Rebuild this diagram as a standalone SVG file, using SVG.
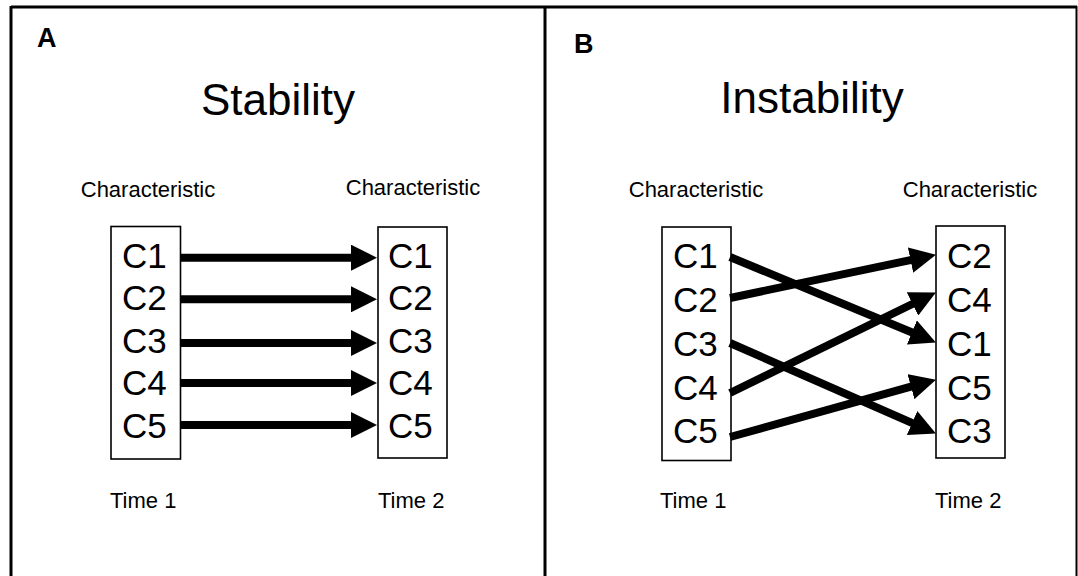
<svg xmlns="http://www.w3.org/2000/svg" width="1078" height="576" viewBox="0 0 1078 576">
<style>
  .frame{fill:none;stroke:#000;stroke-width:3}
  .box{fill:#fff;stroke:#000;stroke-width:1.6}
  .lbl{font-family:"Liberation Sans",Arial,sans-serif;font-size:22px;fill:#000}
  .item{font-family:"Liberation Sans",Arial,sans-serif;font-size:35px;fill:#000}
  .title{font-family:"Liberation Sans",Arial,sans-serif;font-size:44px;fill:#000;text-anchor:middle}
  .panel{font-family:"Liberation Sans",Arial,sans-serif;font-size:27px;font-weight:bold;fill:#000}
  .arrow{stroke:#000;stroke-width:8;fill:none;marker-end:url(#head)}
</style>
<defs>
  <marker id="head" markerUnits="userSpaceOnUse" markerWidth="27" markerHeight="26" refX="1" refY="13" orient="auto">
    <path d="M0,0 L26,13 L0,26 z" fill="#000"/>
  </marker>
</defs>
<rect width="1078" height="576" fill="#fff"/>
<g id="frame">
  <line class="frame" x1="11" y1="7" x2="1077" y2="7"/>
  <line class="frame" x1="11" y1="6" x2="11" y2="576"/>
  <line class="frame" x1="545" y1="6" x2="545" y2="576"/>
  <line x1="1076.5" y1="6" x2="1076.5" y2="576" stroke="#000" stroke-width="2"/>
</g>
<g id="panelA">
  <text class="panel" x="37" y="47">A</text>
  <text class="title" x="278" y="115">Stability</text>
  <text class="lbl" x="148" y="197" text-anchor="middle">Characteristic</text>
  <text class="lbl" x="413" y="195" text-anchor="middle">Characteristic</text>
  <text class="lbl" x="110" y="508">Time 1</text>
  <text class="lbl" x="378" y="508">Time 2</text>
</g>
<g id="A-time1">
  <rect class="box" x="111" y="226.5" width="69.5" height="232.5"/>
  <text class="item" x="122" y="268">C1</text>
  <text class="item" x="122" y="310">C2</text>
  <text class="item" x="122" y="353">C3</text>
  <text class="item" x="122" y="395">C4</text>
  <text class="item" x="122" y="438">C5</text>
</g>
<g id="A-time2">
  <rect class="box" x="378" y="227" width="69" height="231"/>
  <text class="item" x="388" y="268">C1</text>
  <text class="item" x="388" y="310">C2</text>
  <text class="item" x="388" y="353">C3</text>
  <text class="item" x="388" y="395">C4</text>
  <text class="item" x="388" y="438">C5</text>
</g>
<g id="panelB">
  <text class="panel" x="574" y="53">B</text>
  <text class="title" x="812" y="113">Instability</text>
  <text class="lbl" x="696" y="197" text-anchor="middle">Characteristic</text>
  <text class="lbl" x="970" y="197" text-anchor="middle">Characteristic</text>
  <text class="lbl" x="660" y="508">Time 1</text>
  <text class="lbl" x="935" y="508">Time 2</text>
</g>
<g id="B-time1">
  <rect class="box" x="662" y="227" width="69" height="233.5"/>
  <text class="item" x="673" y="268">C1</text>
  <text class="item" x="673" y="312">C2</text>
  <text class="item" x="673" y="356">C3</text>
  <text class="item" x="673" y="400">C4</text>
  <text class="item" x="673" y="443">C5</text>
</g>
<g id="B-time2">
  <rect class="box" x="936" y="226" width="69" height="232"/>
  <text class="item" x="947" y="268">C2</text>
  <text class="item" x="947" y="312">C4</text>
  <text class="item" x="947" y="356">C1</text>
  <text class="item" x="947" y="400">C5</text>
  <text class="item" x="947" y="443">C3</text>
</g>
<g id="connectors">
  <line class="arrow" x1="180" y1="257.7" x2="352" y2="257.7"/>
  <line class="arrow" x1="180" y1="299.3" x2="352" y2="299.3"/>
  <line class="arrow" x1="180" y1="343" x2="352" y2="343"/>
  <line class="arrow" x1="180" y1="383" x2="352" y2="383"/>
  <line class="arrow" x1="180" y1="425" x2="352" y2="425"/>
  <line class="arrow" x1="730" y1="257" x2="912.8" y2="332.8"/>
  <line class="arrow" x1="730" y1="298" x2="911.5" y2="259.9"/>
  <line class="arrow" x1="730" y1="343" x2="913" y2="423.4"/>
  <line class="arrow" x1="730" y1="393" x2="913.4" y2="303.5"/>
  <line class="arrow" x1="730" y1="437" x2="911.9" y2="386.4"/>
</g>
</svg>
